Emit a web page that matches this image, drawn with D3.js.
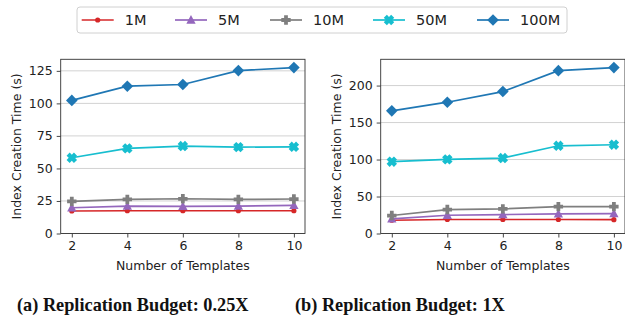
<!DOCTYPE html>
<html>
<head>
<meta charset="utf-8">
<script src="https://cdn.jsdelivr.net/npm/d3@7"></script>
<style>
  html, body { margin: 0; padding: 0; background: #fff; }
  svg { display: block; }
  text { font-family: "DejaVu Sans", sans-serif; fill: #222; }
  .caption { font-family: "Liberation Serif", "Times New Roman", serif; font-weight: bold; fill: #111; }
</style>
</head>
<body>
<svg id="chart" width="625" height="322"></svg>
<script>
// Number of templates on the x axis
const templates = [2, 4, 6, 8, 10];

// Dataset sizes (one line per size)
const seriesNames = ["1M", "5M", "10M", "50M", "100M"];
const seriesColors = ["#d62728", "#9467bd", "#7f7f7f", "#17becf", "#1f77b4"];
const seriesMarkers = ["dot", "triangle", "plus", "cross", "diamond"];

// Index creation time (s), replication budget 0.25X
const budget025_1M   = [17.3, 17.5, 17.5, 17.5, 17.5];
const budget025_5M   = [19.8, 21.1, 20.9, 21.1, 21.6];
const budget025_10M  = [24.7, 26.2, 26.7, 26.2, 26.5];
const budget025_50M  = [58.2, 65.4, 67.2, 66.4, 66.6];
const budget025_100M = [102.3, 113.2, 114.5, 125.2, 127.5];

// Index creation time (s), replication budget 1X
const budget1_1M   = [17.9, 18.9, 18.9, 18.9, 18.7];
const budget1_5M   = [19.8, 24.7, 25.6, 26.5, 27.0];
const budget1_10M  = [24.3, 32.4, 33.3, 36.4, 36.4];
const budget1_50M  = [97.1, 100.2, 102.0, 118.6, 120.0];
const budget1_100M = [165.8, 177.5, 191.9, 220.2, 224.3];

const yTicksLeft  = [0, 25, 50, 75, 100, 125];
const yTicksRight = [0, 50, 100, 150, 200];

const captionLeft  = "(a) Replication Budget: 0.25X";
const captionRight = "(b) Replication Budget: 1X";
const xTitle = "Number of Templates";
const yTitle = "Index Creation Time (s)";

const svg = d3.select("#chart");

// Marker path generators (centered at 0,0)
function markerPath(kind) {
  switch (kind) {
    case "dot": {
      const r = 2.6;
      return `M${-r},0A${r},${r} 0 1,0 ${r},0A${r},${r} 0 1,0 ${-r},0Z`;
    }
    case "triangle": {
      const s = 4.9;
      return `M0,${-s}L${s * 0.95},${s * 0.75}L${-s * 0.95},${s * 0.75}Z`;
    }
    case "plus": {
      const s = 4.7, t = s * 0.4;
      return `M${-t},${-s}H${t}V${-t}H${s}V${t}H${t}V${s}H${-t}V${t}H${-s}V${-t}H${-t}Z`;
    }
    case "cross": {
      const s = 5.2, t = s * 0.42;
      const pts = [[-t,-s],[t,-s],[t,-t],[s,-t],[s,t],[t,t],[t,s],[-t,s],[-t,t],[-s,t],[-s,-t],[-t,-t]];
      const a = Math.PI / 4, c = Math.cos(a), sn = Math.sin(a);
      const rot = pts.map(([x, y]) => [x * c - y * sn, x * sn + y * c]);
      return "M" + rot.map(p => p[0].toFixed(2) + "," + p[1].toFixed(2)).join("L") + "Z";
    }
    case "diamond": {
      const s = 5.8;
      return `M0,${-s}L${s},0L0,${s}L${-s},0Z`;
    }
  }
}

function drawPanel(cfg) {
  const g = svg.append("g");
  const x = d3.scaleLinear().domain([1.6, 10.4]).range([cfg.left, cfg.left + 244.3]);
  const yMax = d3.max(cfg.series.flat()) * 1.05;
  const y = d3.scaleLinear().domain([0, yMax]).range([233.5, 59.3]);

  // horizontal grid
  g.append("g").selectAll("line").data(cfg.yTicks).join("line")
    .attr("x1", x.range()[0]).attr("x2", x.range()[1])
    .attr("y1", d => y(d)).attr("y2", d => y(d))
    .attr("stroke", "#d2d2d2").attr("stroke-width", 1);

  // axes
  const yAxis = d3.axisLeft(y).tickValues(cfg.yTicks).tickSize(4).tickPadding(4);
  const xAxis = d3.axisBottom(x).tickValues(templates).tickSize(4).tickPadding(4);
  const ya = g.append("g").attr("transform", `translate(${x.range()[0]},0)`).call(yAxis);
  const xa = g.append("g").attr("transform", `translate(0,${y(0)})`).call(xAxis);
  [ya, xa].forEach(a => {
    a.select(".domain").remove();
    a.selectAll(".tick line").attr("stroke", "#333").attr("stroke-width", 0.9);
    a.selectAll(".tick text").attr("font-size", 12.5).attr("font-family", "DejaVu Sans").attr("fill", "#222");
  });

  // series lines and markers
  const line = d3.line().x((d, i) => x(templates[i])).y(d => y(d));
  cfg.series.forEach((vals, si) => {
    const sg = g.append("g");
    sg.append("path").datum(vals).attr("d", line)
      .attr("fill", "none").attr("stroke", seriesColors[si]).attr("stroke-width", 1.7);
    sg.selectAll("path.m").data(vals).join("path").attr("class", "m")
      .attr("d", markerPath(seriesMarkers[si]))
      .attr("transform", (d, i) => `translate(${x(templates[i])},${y(d)})`)
      .attr("fill", seriesColors[si]);
  });

  // frame
  g.append("rect")
    .attr("x", x.range()[0]).attr("y", y.range()[1])
    .attr("width", x.range()[1] - x.range()[0]).attr("height", y.range()[0] - y.range()[1])
    .attr("fill", "none").attr("stroke", "#333").attr("stroke-width", 0.9);

  // titles
  const cx = (x.range()[0] + x.range()[1]) / 2;
  g.append("text").attr("x", cx).attr("y", 270).attr("text-anchor", "middle")
    .attr("font-size", 12.5).text(xTitle);
  const cy = (y.range()[0] + y.range()[1]) / 2;
  g.append("text").attr("transform", `translate(${cfg.yTitleX},${cy}) rotate(-90)`)
    .attr("text-anchor", "middle").attr("font-size", 12.5).text(yTitle);

  svg.append("text").attr("class", "caption").attr("x", cfg.captionX).attr("y", 311)
    .attr("font-size", 18.3).text(cfg.caption);
}

drawPanel({
  left: 60.7,
  series: [budget025_1M, budget025_5M, budget025_10M, budget025_50M, budget025_100M],
  yTicks: yTicksLeft, yTitleX: 21, caption: captionLeft, captionX: 17
});
drawPanel({
  left: 380.7,
  series: [budget1_1M, budget1_5M, budget1_10M, budget1_50M, budget1_100M],
  yTicks: yTicksRight, yTitleX: 341, caption: captionRight, captionX: 295
});

// legend
const legend = svg.append("g");
legend.append("rect").attr("x", 77).attr("y", 7).attr("width", 490).attr("height", 26)
  .attr("rx", 3).attr("fill", "#fff").attr("stroke", "#d0d0d0").attr("stroke-width", 1);
const legendLineX = [81.7, 175, 270, 373, 477];
seriesNames.forEach((name, i) => {
  const lx = legendLineX[i];
  const item = legend.append("g");
  item.append("line").attr("x1", lx).attr("x2", lx + 32).attr("y1", 20).attr("y2", 20)
    .attr("stroke", seriesColors[i]).attr("stroke-width", 1.7);
  item.append("path").attr("d", markerPath(seriesMarkers[i]))
    .attr("transform", `translate(${lx + 16},20)`).attr("fill", seriesColors[i]);
  item.append("text").attr("x", lx + 43).attr("y", 25.2).attr("font-size", 14.5).text(name);
});
</script>
</body>
</html>
